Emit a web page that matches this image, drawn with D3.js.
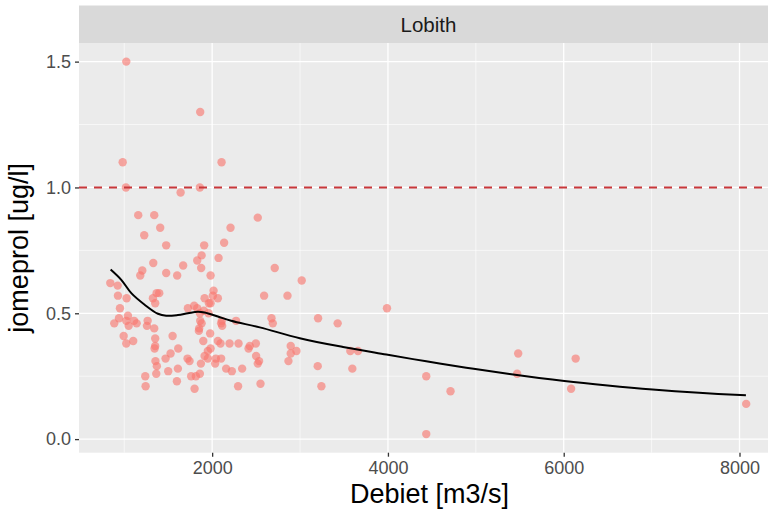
<!DOCTYPE html>
<html><head><meta charset="utf-8">
<script src="https://cdn.jsdelivr.net/npm/d3@7"></script>
<style>body{margin:0;background:#fff}svg{display:block}text{font-family:"Liberation Sans",Arial,sans-serif}</style>
</head><body><div id="chart"></div>
<script>
const facetLabel = "Lobith";
const debiet = [1023,1864,982,2107,1019,1641,1860,1159,1341,1409,1227,1477,2519,2209,2136,1909,1880,1830,2073,1875,1670,1330,1205,1182,1477,1602,1982,2712,841,925,928,1027,1368,1398,1326,1352,2016,2008,1914,2065,1982,1963,2591,951,1724,1795,1830,1906,1860,1959,886,940,1042,1023,1111,1050,1141,1266,1258,1341,993,1102,1023,1352,1352,1345,1550,1614,1527,1470,1355,1371,1364,1239,1243,1500,1610,1599,1720,1743,1872,1761,1815,1860,1800,1899,1977,1852,1849,1864,1880,1951,1982,1914,1951,2042,2102,2034,2065,2095,2198,2300,2159,2224,2341,2295,2414,2428,2497,2500,2534,2519,2550,2690,2675,2102,2110,2114,3019,2857,3205,3428,3989,2894,2894,2959,2868,3572,3659,3201,3595,3243,4436,4712,4436,5482,5470,6136,6084,8076,2272];
const jomeprol = [1.50,1.30,1.10,1.10,1.00,0.98,1.00,0.89,0.89,0.84,0.81,0.77,0.88,0.84,0.78,0.77,0.73,0.71,0.72,0.68,0.69,0.70,0.67,0.65,0.66,0.65,0.65,0.68,0.62,0.61,0.57,0.56,0.58,0.58,0.56,0.54,0.59,0.57,0.56,0.56,0.54,0.54,0.57,0.52,0.52,0.53,0.52,0.51,0.50,0.50,0.46,0.48,0.49,0.47,0.47,0.45,0.46,0.47,0.45,0.44,0.41,0.39,0.38,0.40,0.37,0.36,0.41,0.36,0.34,0.32,0.31,0.29,0.26,0.25,0.21,0.27,0.28,0.23,0.32,0.31,0.30,0.25,0.25,0.26,0.20,0.39,0.42,0.44,0.43,0.47,0.46,0.35,0.36,0.33,0.32,0.32,0.32,0.30,0.39,0.38,0.38,0.38,0.28,0.27,0.28,0.21,0.36,0.37,0.38,0.33,0.31,0.30,0.22,0.46,0.48,0.46,0.47,0.45,0.63,0.57,0.48,0.46,0.52,0.37,0.34,0.35,0.31,0.35,0.35,0.29,0.28,0.21,0.25,0.19,0.02,0.34,0.26,0.32,0.20,0.14,0.47];
const smoothX = [845,966,1080,1232,1383,1477,1610,1724,1837,1914,2065,2216,2542,2997,3489,3982,4436,4891,5383,6008,6500,7011,7540,8073];
const smoothY = [0.674,0.633,0.58,0.534,0.498,0.49,0.493,0.50,0.506,0.503,0.487,0.47,0.444,0.401,0.366,0.336,0.309,0.284,0.259,0.231,0.213,0.197,0.184,0.174];
const limitValue = 1.0;
const xTicks = [2000,4000,6000,8000];
const xMinor = [1000,3000,5000,7000];
const yTicks = [0.0,0.5,1.0,1.5];
const yMinor = [0.25,0.75,1.25];
const xTitle = "Debiet [m3/s]";
const yTitle = "jomeprol [ug/l]";

const W = 768, H = 511;
const P = {l:79, r:778, t:43, b:452.7};
const svg = d3.select("#chart").append("svg").attr("width",W).attr("height",H);
const x = d3.scaleLinear().domain([485, 8438]).range([P.l, P.r]);
const y = d3.scaleLinear().domain([-0.054, 1.574]).range([P.b, P.t]);

svg.append("rect").attr("x",P.l).attr("y",P.t).attr("width",P.r-P.l).attr("height",P.b-P.t).attr("fill","#EBEBEB");
// strip
svg.append("rect").attr("x",P.l).attr("y",5.5).attr("width",P.r-P.l).attr("height",P.t-5.5).attr("fill","#D9D9D9");
svg.append("text").attr("x",(P.l+P.r)/2).attr("y",(5.5+P.t)/2).attr("dy","0.36em").attr("text-anchor","middle")
  .attr("font-size",20.5).attr("fill","#1A1A1A").text(facetLabel);

const g = svg.append("g");
g.selectAll(".xmin").data(xMinor).join("line").attr("x1",d=>x(d)).attr("x2",d=>x(d)).attr("y1",P.t).attr("y2",P.b).attr("stroke","#fff").attr("stroke-width",0.6);
g.selectAll(".ymin").data(yMinor).join("line").attr("y1",d=>y(d)).attr("y2",d=>y(d)).attr("x1",P.l).attr("x2",P.r).attr("stroke","#fff").attr("stroke-width",0.6);
g.selectAll(".xmaj").data(xTicks).join("line").attr("x1",d=>x(d)).attr("x2",d=>x(d)).attr("y1",P.t).attr("y2",P.b).attr("stroke","#fff").attr("stroke-width",1.3);
g.selectAll(".ymaj").data(yTicks).join("line").attr("y1",d=>y(d)).attr("y2",d=>y(d)).attr("x1",P.l).attr("x2",P.r).attr("stroke","#fff").attr("stroke-width",1.3);

// points
const pts = debiet.map((d,i)=>({x:d,y:jomeprol[i]}));
svg.append("g").selectAll("circle").data(pts).join("circle")
  .attr("cx",d=>x(d.x)).attr("cy",d=>y(d.y)).attr("r",4.2)
  .attr("fill","#F8766D").attr("fill-opacity",0.62);

// limit line
svg.append("line").attr("x1",P.l).attr("x2",P.r).attr("y1",y(limitValue)).attr("y2",y(limitValue))
  .attr("stroke","#C8373A").attr("stroke-width",2).attr("stroke-dasharray","8,7");

// smooth
const sm = smoothX.map((d,i)=>[d,smoothY[i]]);
svg.append("path").datum(sm).attr("d",d3.line().x(d=>x(d[0])).y(d=>y(d[1])).curve(d3.curveCatmullRom))
  .attr("fill","none").attr("stroke","#000").attr("stroke-width",2);

// axes
const xa = svg.append("g").attr("transform",`translate(0,${P.b})`)
  .call(d3.axisBottom(x).tickValues(xTicks).tickFormat(d3.format("d")).tickSize(4).tickPadding(5));
const ya = svg.append("g").attr("transform",`translate(${P.l},0)`)
  .call(d3.axisLeft(y).tickValues(yTicks).tickFormat(d3.format(".1f")).tickSize(4).tickPadding(4));
[xa,ya].forEach(a=>{
  a.select(".domain").remove();
  a.selectAll(".tick line").attr("stroke","#333").attr("stroke-width",1.3);
  a.selectAll(".tick text").attr("fill","#4D4D4D").attr("font-size",18).attr("font-family","Liberation Sans, Arial, sans-serif");
});
svg.append("text").attr("x",(P.l+768)/2+6).attr("y",503).attr("text-anchor","middle").attr("font-size",27).attr("fill","#000").text(xTitle);
svg.append("text").attr("transform",`translate(28,${(P.t+P.b)/2}) rotate(-90)`).attr("text-anchor","middle").attr("font-size",27).attr("fill","#000").text(yTitle);
</script></body></html>
